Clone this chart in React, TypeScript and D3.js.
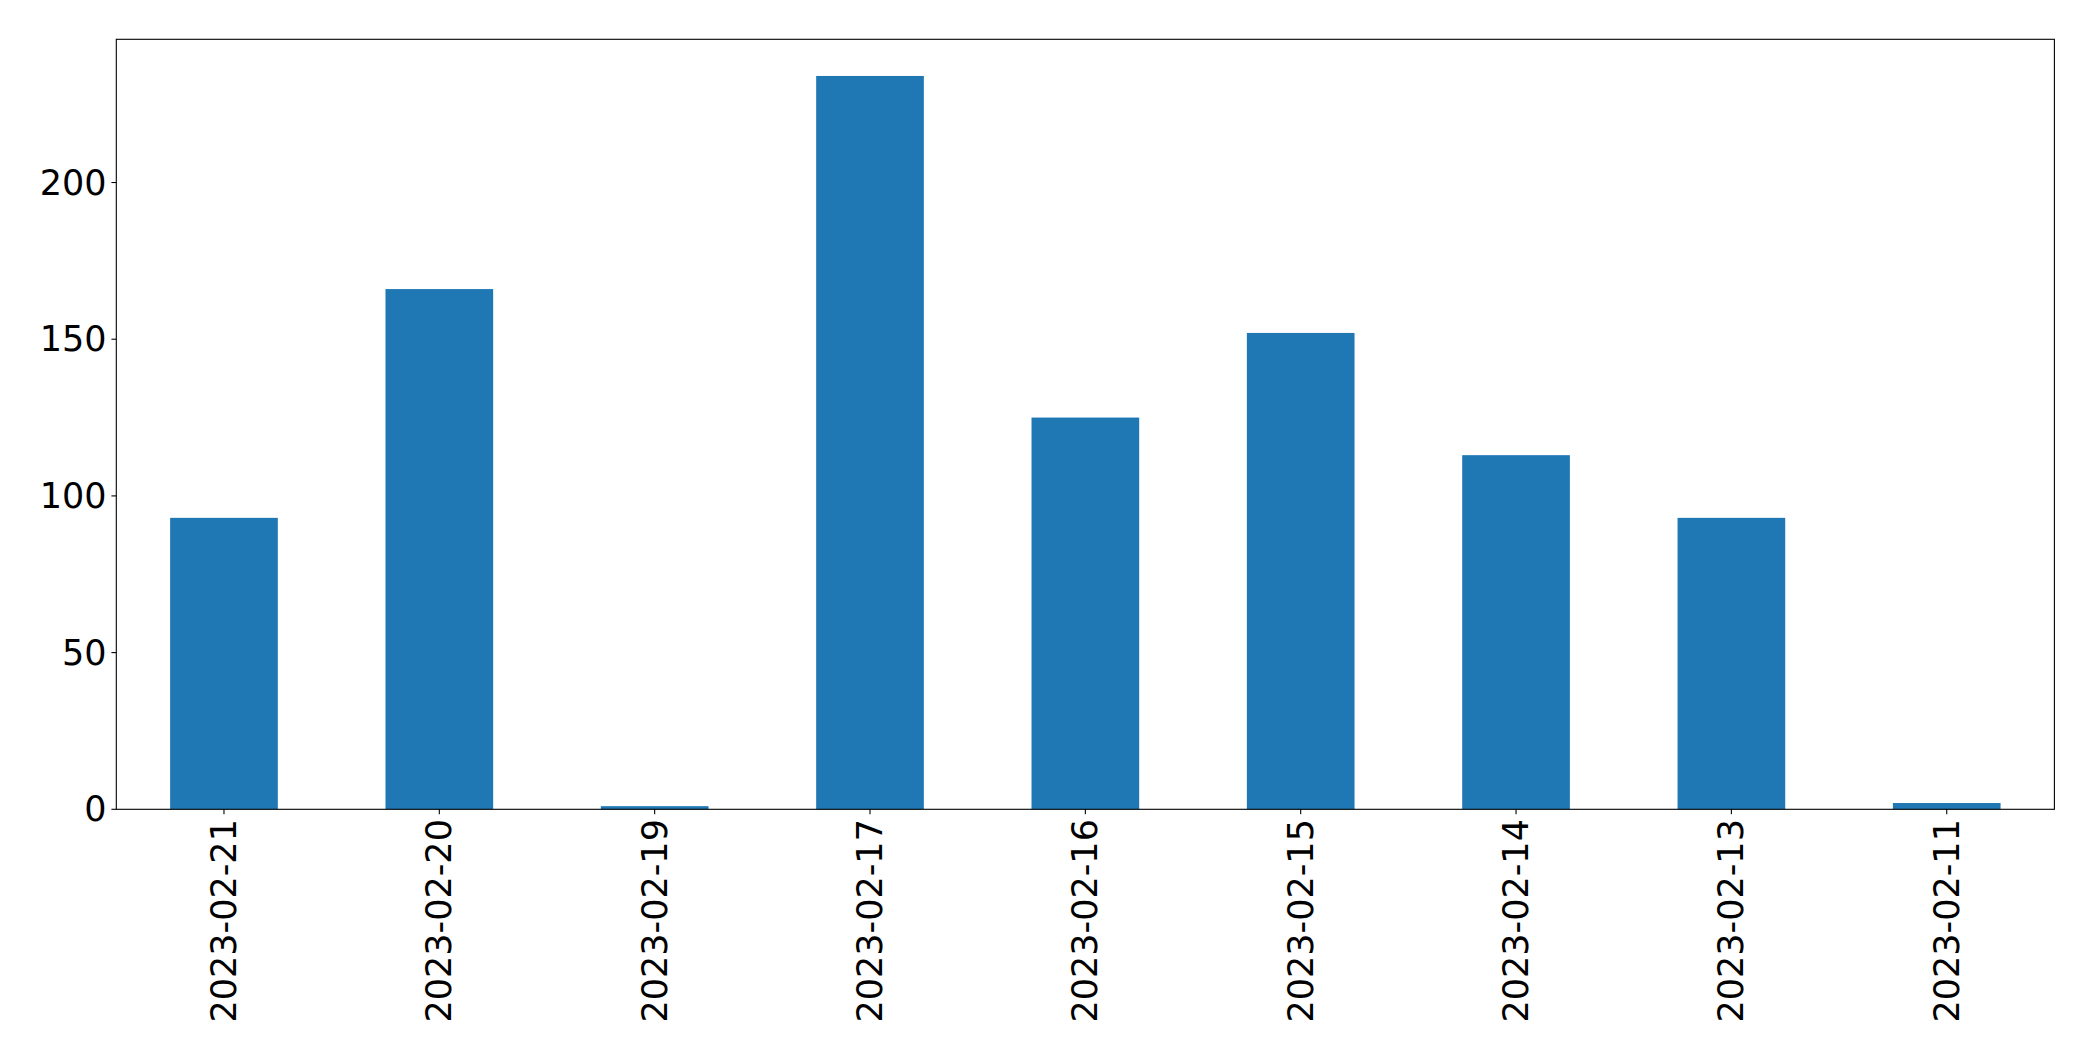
import React from "react";
import * as d3 from "d3";

const categories = [
  "2023-02-21",
  "2023-02-20",
  "2023-02-19",
  "2023-02-17",
  "2023-02-16",
  "2023-02-15",
  "2023-02-14",
  "2023-02-13",
  "2023-02-11",
];
const values = [93, 166, 1, 234, 125, 152, 113, 93, 2];
const yTicks = [0, 50, 100, 150, 200];

const W = 2093;
const H = 1061;
const left = 116.3;
const right = 2054.4;
const top = 39.3;
const bottom = 809.3;
const font = "'DejaVu Sans', sans-serif";
const fontSize = 35;

export default function App() {
  const x = d3
    .scaleBand<string>()
    .domain(categories)
    .range([left, right])
    .paddingInner(0.5)
    .paddingOuter(0.25);
  const yMax = d3.max(values)! * 1.05;
  const y = d3.scaleLinear().domain([0, yMax]).range([bottom, top]);

  return (
    <svg
      width={W}
      height={H}
      style={{ position: "fixed", left: 0, top: 0, background: "#fff" }}
    >
      <rect x={0} y={0} width={W} height={H} fill="#fff" />
      {categories.map((c, i) => (
        <rect
          key={c}
          x={x(c)!}
          y={y(values[i])}
          width={x.bandwidth()}
          height={y(0) - y(values[i])}
          fill="#1f77b4"
        />
      ))}
      <rect
        x={left}
        y={top}
        width={right - left}
        height={bottom - top}
        fill="none"
        stroke="#000"
        strokeWidth={1.1}
      />
      {yTicks.map((t) => (
        <g key={t}>
          <line x1={left - 4.9} x2={left} y1={y(t)} y2={y(t)} stroke="#000" strokeWidth={1.1} />
          <text
            x={left - 9.8}
            y={y(t)}
            textAnchor="end"
            dominantBaseline="central"
            fontFamily={font}
            fontSize={fontSize}
            fill="#000"
          >
            {t}
          </text>
        </g>
      ))}
      {categories.map((c) => {
        const cx = x(c)! + x.bandwidth() / 2;
        return (
          <g key={c}>
            <line x1={cx} x2={cx} y1={bottom} y2={bottom + 4.9} stroke="#000" strokeWidth={1.1} />
            <text
              transform={`translate(${cx},${bottom + 9.8}) rotate(-90)`}
              textAnchor="end"
              dominantBaseline="central"
              fontFamily={font}
              fontSize={fontSize}
              fill="#000"
            >
              {c}
            </text>
          </g>
        );
      })}
    </svg>
  );
}
